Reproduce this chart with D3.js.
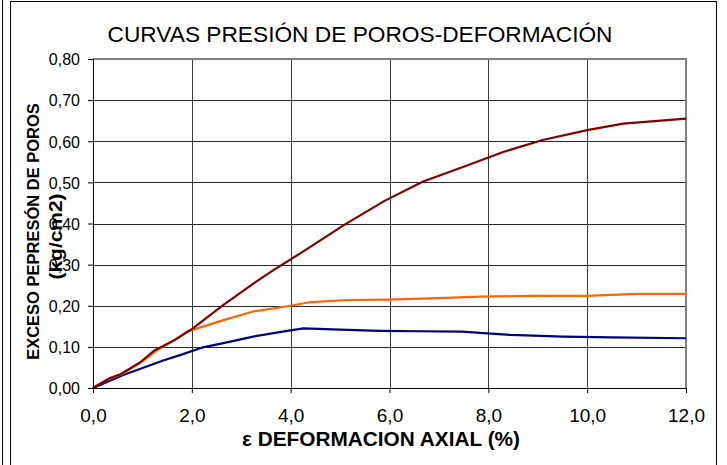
<!DOCTYPE html>
<html><head><meta charset="utf-8">
<script src="https://cdn.jsdelivr.net/npm/d3@7/dist/d3.min.js"></script>
<style>
body{margin:0;background:#fff}
svg{display:block}
text{font-family:Arial,"Liberation Sans",sans-serif;fill:#000}
</style>
</head><body>
<svg id="chart" width="727" height="465"></svg>
<script>
// ---- text ----
const chartTitle = "CURVAS PRESIÓN DE POROS-DEFORMACIÓN";
const xAxisTitle = "ε  DEFORMACION AXIAL (%)";
const yAxisTitle1 = "EXCESO PEPRESÓN DE POROS";
const yAxisTitle2 = "(kg/cm2)";

// ---- ticks ----
const xTickValues = [0, 2, 4, 6, 8, 10, 12];
const yTickValues = [0, 0.1, 0.2, 0.3, 0.4, 0.5, 0.6, 0.7, 0.8];

// ---- series (strain %, pore pressure kg/cm2) ----
const redStrain = [0, 0.34, 0.55, 0.95, 1.25, 1.66, 2.0, 2.64, 3.28, 3.62, 4.32, 5.1, 5.9, 6.68, 7.5, 8.3, 9.1, 10.0, 10.73, 12.0];
const redPressure = [0, 0.024, 0.033, 0.062, 0.092, 0.117, 0.143, 0.202, 0.257, 0.284, 0.337, 0.398, 0.455, 0.502, 0.538, 0.574, 0.603, 0.627, 0.643, 0.655];

const orangeStrain = [0, 0.25, 0.6, 1.0, 1.3, 1.65, 1.9, 2.64, 3.24, 3.99, 4.36, 5.13, 6.0, 6.82, 7.83, 8.84, 10.0, 11.0, 12.0];
const orangePressure = [0, 0.018, 0.035, 0.065, 0.092, 0.117, 0.137, 0.165, 0.186, 0.200, 0.208, 0.214, 0.215, 0.218, 0.222, 0.224, 0.224, 0.229, 0.229];

const blueStrain = [0, 0.6, 1.42, 1.76, 2.2, 2.64, 3.24, 3.99, 4.26, 5.0, 5.81, 6.6, 7.46, 8.44, 9.52, 10.5, 12.0];
const bluePressure = [0, 0.031, 0.067, 0.080, 0.098, 0.109, 0.125, 0.140, 0.145, 0.142, 0.139, 0.138, 0.137, 0.129, 0.125, 0.123, 0.121];

const seriesColors = ["#800000", "#FF6600", "#000080"];

// ---- layout ----
const svg = d3.select("#chart");
const plot = {left: 93, right: 686, top: 59, bottom: 388};

const x = d3.scaleLinear().domain([0, 12]).range([plot.left, plot.right]);
const y = d3.scaleLinear().domain([0, 0.8]).range([plot.bottom, plot.top]);
const comma = s => s.replace(".", ",");

svg.append("rect").attr("width", 727).attr("height", 465).attr("fill", "#fff");

// outer frames
svg.append("line").attr("x1", 2.5).attr("x2", 2.5).attr("y1", 0).attr("y2", 465)
  .attr("stroke", "#000").attr("stroke-width", 1);
svg.append("rect").attr("x", 10.5).attr("y", 1.5).attr("width", 706).attr("height", 480)
  .attr("fill", "none").attr("stroke", "#000").attr("stroke-width", 1);

// grid
const grid = svg.append("g");
grid.selectAll("line.h").data(yTickValues.filter(v => v > 0 && v < 0.8)).enter()
  .append("line")
  .attr("x1", plot.left).attr("x2", plot.right)
  .attr("y1", d => Math.round(y(d)) + 0.5).attr("y2", d => Math.round(y(d)) + 0.5)
  .attr("stroke", "#2a2a2a").attr("stroke-width", 1);
grid.selectAll("line.v").data(xTickValues.filter(v => v > 0 && v < 12)).enter()
  .append("line")
  .attr("y1", plot.top).attr("y2", plot.bottom)
  .attr("x1", d => Math.round(x(d)) + 0.5).attr("x2", d => Math.round(x(d)) + 0.5)
  .attr("stroke", "#3a3a3a").attr("stroke-width", 1);

// plot border top/right (gray)
svg.append("path")
  .attr("d", `M${plot.left},${plot.top} H${plot.right} V${plot.bottom}`)
  .attr("fill", "none").attr("stroke", "#808080").attr("stroke-width", 2);

// series
const line = d3.line().x(d => x(d[0])).y(d => y(d[1]));
const allSeries = [
  d3.zip(redStrain, redPressure),
  d3.zip(orangeStrain, orangePressure),
  d3.zip(blueStrain, bluePressure)
];
[2, 1, 0].forEach(i => {
  svg.append("path").datum(allSeries[i])
    .attr("d", line)
    .attr("fill", "none")
    .attr("stroke", seriesColors[i])
    .attr("stroke-width", 2.2)
    .attr("stroke-linejoin", "round");
});

// axes
const xAxis = d3.axisBottom(x).tickValues(xTickValues).tickSize(5).tickSizeOuter(0)
  .tickFormat(d => comma(d3.format(".1f")(d)));
const gx = svg.append("g").attr("transform", `translate(0,${plot.bottom})`).call(xAxis);
gx.select(".domain").attr("stroke", "#000");
gx.selectAll(".tick line").attr("stroke", "#000");
gx.selectAll("text").attr("font-size", "19px").attr("y", 21).attr("dy", "0.71em")
  .style("font-family", "Arial, 'Liberation Sans', sans-serif").attr("fill", "#000");

const yAxis = d3.axisLeft(y).tickValues(yTickValues).tickSize(5).tickSizeOuter(0)
  .tickFormat(d => comma(d3.format(".2f")(d)));
const gy = svg.append("g").attr("transform", `translate(${plot.left},0)`).call(yAxis);
gy.select(".domain").attr("stroke", "#000");
gy.selectAll(".tick line").attr("stroke", "#000");
gy.selectAll("text").attr("font-size", "16px").attr("x", -13).attr("dy", "0.36em")
  .style("font-family", "Arial, 'Liberation Sans', sans-serif").attr("fill", "#000");

// titles
svg.append("text").attr("x", 360).attr("y", 42).attr("text-anchor", "middle")
  .attr("font-size", "22.5px").attr("textLength", 505).attr("lengthAdjust", "spacingAndGlyphs")
  .text(chartTitle);

svg.append("text").attr("x", 381).attr("y", 446).attr("text-anchor", "middle")
  .attr("font-size", "20px").attr("font-weight", "bold")
  .attr("textLength", 278).attr("lengthAdjust", "spacingAndGlyphs").text(xAxisTitle);

svg.append("text").attr("transform", "translate(38.5,231.5) rotate(-90)")
  .attr("text-anchor", "middle").attr("font-size", "16.5px").attr("font-weight", "bold")
  .text(yAxisTitle1);
svg.append("text").attr("transform", "translate(62,236.5) rotate(-90)")
  .attr("text-anchor", "middle").attr("font-size", "18.5px").attr("font-weight", "bold")
  .attr("textLength", 86).attr("lengthAdjust", "spacingAndGlyphs")
  .text(yAxisTitle2);
</script>
</body></html>
